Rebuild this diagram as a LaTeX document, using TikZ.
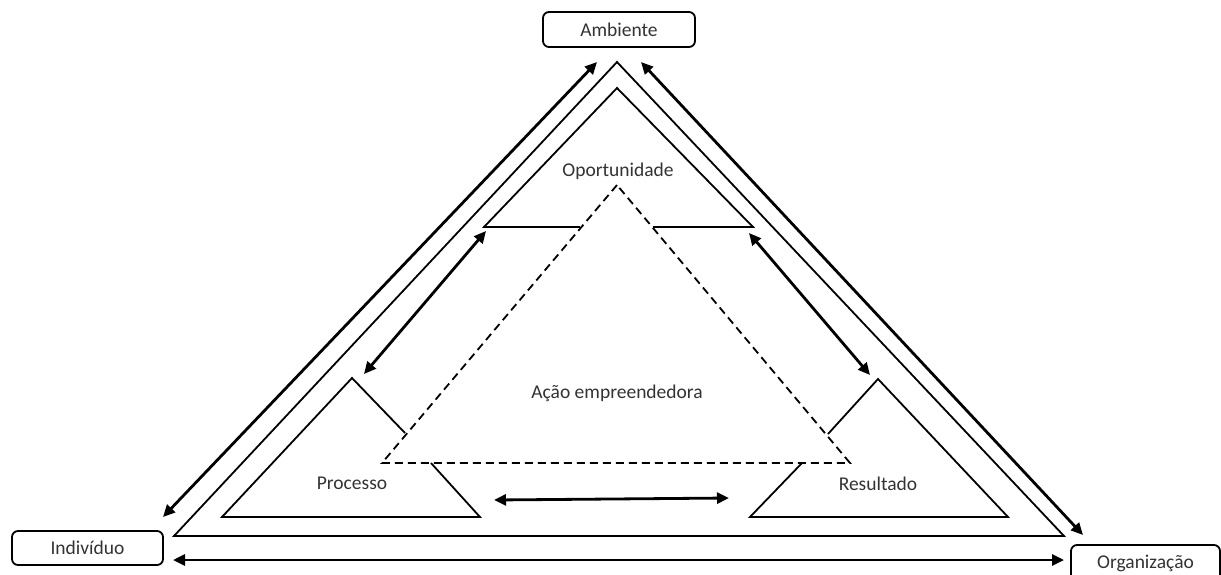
\documentclass[tikz,border=0pt]{standalone}
\usepackage{fontspec}
\setmainfont{Carlito}
\usetikzlibrary{arrows.meta}
\begin{document}
\begin{tikzpicture}[x=1pt,y=-1pt,
  every node/.style={font=\fontsize{19.5}{23}\selectfont, text=black!80},
  box/.style={draw=black, line width=1.8pt, rounded corners=6pt, inner sep=0pt},
  tri/.style={draw=black, line width=1.8pt, line join=miter},
  dashtri/.style={draw=black, line width=1.8pt, dash pattern=on 8pt off 5pt},
  dbl/.style={line width=2.8pt, {Triangle[length=12pt,width=11pt]}-{Triangle[length=12pt,width=11pt]}},
  lbl/.style={inner sep=1pt}]
\clip (0,0) rectangle (1221,574);
\fill[white] (0,0) rectangle (1221,574);
% label boxes
\node[box, minimum width=152pt, minimum height=35pt] (amb) at (619,29.5) {Ambiente};
\node[box, minimum width=151pt, minimum height=34pt] (ind) at (87.5,548) {Indivíduo};
\node[box, minimum width=149pt, minimum height=36pt] (org) at (1145.5,563) {Organização};
% outer triangle
\draw[tri] (617,62) -- (174,536) -- (1064,536) -- cycle;
% Oportunidade triangle
\draw[tri] (580,227) -- (484,227) -- (617,88) -- (753,227) -- (653,227);
% Processo triangle
\draw[tri] (405,433) -- (352,378) -- (222,517) -- (480,517) -- (431,463);
% Resultado triangle
\draw[tri] (828,434) -- (878,379) -- (1008,517) -- (750,517) -- (802,463);
% dashed triangle
\draw[dashtri] (617,185) -- (382,463) -- (850,463) -- cycle;
% texts
\node[lbl] (op) at (618,171) {Oportunidade};
\node[lbl] (acao) at (617,393) {Ação empreendedora};
\node[lbl] (proc) at (352,483) {Processo};
\node[lbl] (res) at (878,484) {Resultado};
% arrow end points
\coordinate (a1) at (163,517);
\coordinate (a2) at (597,62);
\coordinate (b1) at (641,62);
\coordinate (b2) at (1083,535);
\coordinate (c1) at (173,560);
\coordinate (c2) at (1064,560);
\coordinate (d1) at (486,231);
\coordinate (d2) at (364,374);
\coordinate (e1) at (749,233);
\coordinate (e2) at (870,375);
\coordinate (f1) at (494,500);
\coordinate (f2) at (729,498);
\draw[dbl] (a1) -- (a2);
\draw[dbl] (b1) -- (b2);
\draw[dbl] (c1) -- (c2);
\draw[dbl] (d1) -- (d2);
\draw[dbl] (e1) -- (e2);
\draw[dbl] (f1) -- (f2);
\end{tikzpicture}
\end{document}
